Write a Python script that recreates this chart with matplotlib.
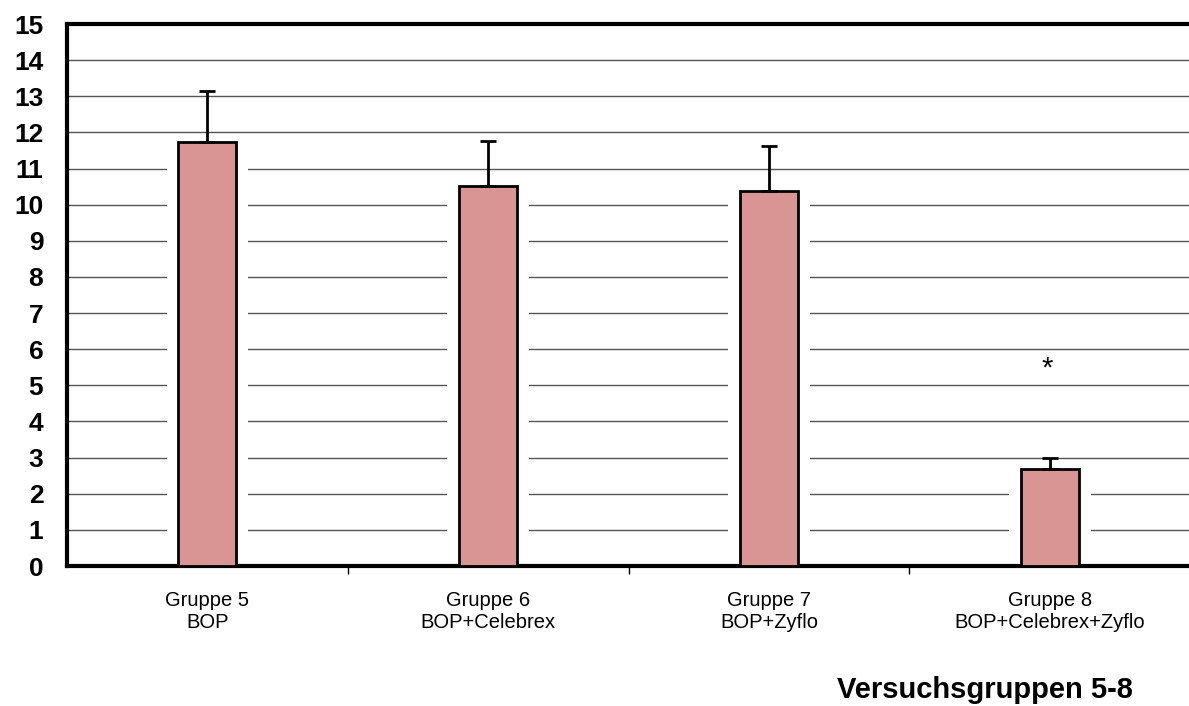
import matplotlib.pyplot as plt
import matplotlib.transforms as mtransforms
import numpy as np

plt.rcParams['font.family'] = ['Liberation Sans', 'DejaVu Sans']

groups = ['Gruppe 5\nBOP', 'Gruppe 6\nBOP+Celebrex', 'Gruppe 7\nBOP+Zyflo', 'Gruppe 8\nBOP+Celebrex+Zyflo']
means = [11.73, 10.52, 10.38, 2.68]
errs = [1.42, 1.24, 1.24, 0.31]
star_group = 3
star_y = 5.65

fig = plt.figure(figsize=(11.89, 7.06), dpi=100)
ax = fig.add_axes([0.0563, 0.1983, 0.9447, 0.7677])

x = np.arange(len(groups))
ax.set_xlim(-0.5, 3.5)
ax.set_ylim(0, 15)

# grid lines, interrupted around bars by white padding
for yy in range(1, 15):
    ax.axhline(yy, color='#555555', lw=1, zorder=1)
ax.bar(x, means, width=0.29, color='white', edgecolor='none', zorder=2)
ax.bar(x, means, width=0.206, color='#D99594', edgecolor='black', lw=2, zorder=3)
ax.errorbar(x, means, yerr=[np.zeros(len(errs)), errs], fmt='none',
            ecolor='black', elinewidth=2, capsize=6, capthick=2, zorder=4)
# asterisk glyph sits high in its box, shift it down a bit
shift = mtransforms.offset_copy(ax.transData, fig=fig, x=0, y=-5, units='points')
ax.text(star_group - 0.01, star_y, '*', ha='center', va='center', fontsize=21,
        transform=shift)

ax.set_yticks(range(0, 16))
ax.set_yticklabels([str(i) for i in range(16)], fontsize=19, fontweight='bold')
ax.tick_params(axis='y', length=0, pad=17)

ax.set_xticks(x)
ax.set_xticklabels(groups, fontsize=14.5)
ax.tick_params(axis='x', length=0, pad=18)
ax.set_xticks([0.5, 1.5, 2.5], minor=True)
ax.tick_params(axis='x', which='minor', length=6, width=1, direction='out')

for s in ['left', 'bottom', 'top']:
    ax.spines[s].set_linewidth(3)
ax.spines['right'].set_visible(False)

fig.text(0.953, 0.022, 'Versuchsgruppen 5-8', ha='right', va='center',
         fontsize=21, fontweight='bold')

fig.savefig('out.png', dpi=100)
